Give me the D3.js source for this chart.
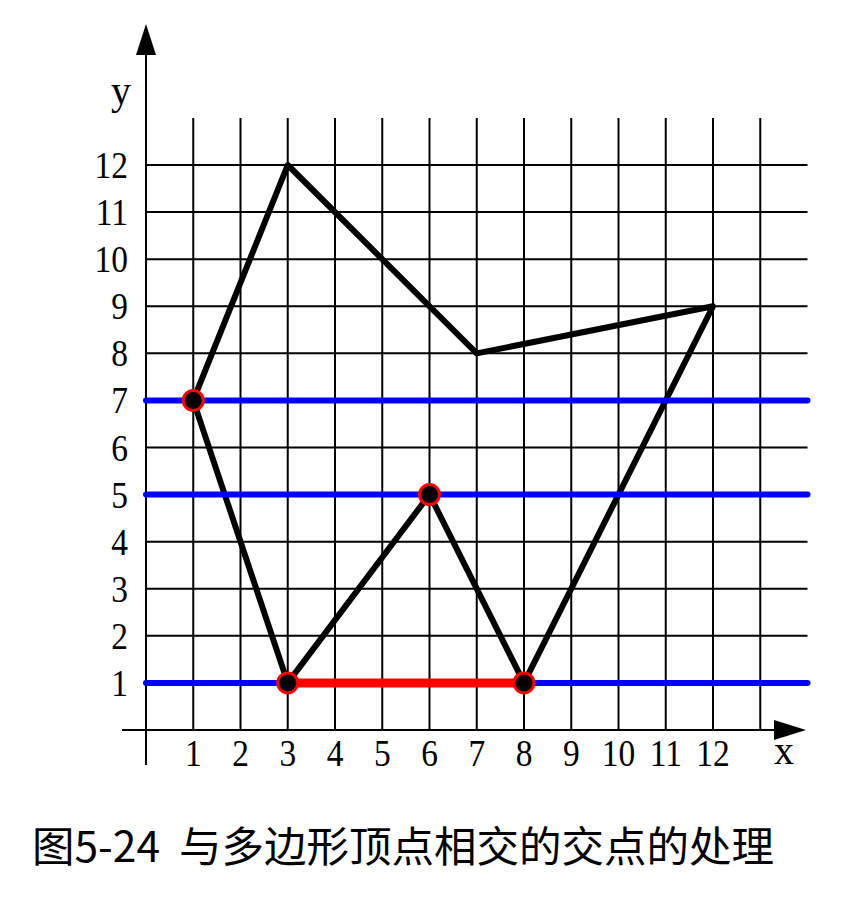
<!DOCTYPE html>
<html><head><meta charset="utf-8">
<script src="https://cdn.jsdelivr.net/npm/d3@7"></script>
<style>body{margin:0;background:#fff}</style>
</head><body>
<svg id="chart" width="851" height="901"></svg>
<script>
// polygon vertices
const polygon = [[1,7],[3,12],[7,8],[12,9],[8,1],[6,5],[3,1]];
// scan lines and the span filled on y=1
const scanLines = [7, 5, 1];
const redSpan = [[3,1],[8,1]];
// vertices hit by scan lines
const hitPoints = [[1,7],[6,5],[3,1],[8,1]];
const xTicks = d3.range(1, 13);
const yTicks = d3.range(1, 13);
const caption = "图5-24  与多边形顶点相交的交点的处理";

const svg = d3.select('#chart');
const x = d3.scaleLinear().domain([0, 12]).range([146, 713]);
const y = d3.scaleLinear().domain([0, 12]).range([730, 165]);
const serif = '"Liberation Serif", "DejaVu Serif", serif';

// grid
const grid = svg.append('g').attr('stroke', '#000').attr('stroke-width', 2);
grid.selectAll('.v').data(d3.range(1, 14)).join('line')
    .attr('x1', d => x(d)).attr('x2', d => x(d))
    .attr('y1', y(13)).attr('y2', y(0));
grid.selectAll('.h').data(yTicks).join('line')
    .attr('x1', x(0)).attr('x2', x(14))
    .attr('y1', d => y(d)).attr('y2', d => y(d));

// axes
svg.append('line').attr('x1', x(0)).attr('x2', x(0)).attr('y1', 765).attr('y2', 50)
    .attr('stroke', '#000').attr('stroke-width', 2);
svg.append('path').attr('d', `M${x(0)},24 L${x(0)-10},55 L${x(0)+10},55 Z`).attr('fill', '#000');
svg.append('line').attr('x1', 122).attr('x2', 780).attr('y1', y(0)).attr('y2', y(0))
    .attr('stroke', '#000').attr('stroke-width', 2);
svg.append('path').attr('d', `M806,${y(0)} L774,${y(0)-10} L774,${y(0)+10} Z`).attr('fill', '#000');

// tick labels (tall, slightly condensed serif)
svg.selectAll('.xt').data(xTicks).join('text')
    .attr('transform', d => `translate(${x(d)},766) scale(0.88,1)`)
    .attr('text-anchor', 'middle')
    .attr('font-family', serif).attr('font-size', 38).text(d => d);
svg.selectAll('.yt').data(yTicks).join('text')
    .attr('transform', d => `translate(128,${y(d) + 13}) scale(0.88,1)`)
    .attr('text-anchor', 'end')
    .attr('font-family', serif).attr('font-size', 38).text(d => d);
svg.append('text').attr('x', 121).attr('y', 104).attr('text-anchor', 'middle')
    .attr('font-family', serif).attr('font-size', 40).text('y');
svg.append('text').attr('x', 784).attr('y', 764).attr('text-anchor', 'middle')
    .attr('font-family', serif).attr('font-size', 40).text('x');

// polygon
svg.append('path')
    .attr('d', d3.line().x(d => x(d[0])).y(d => y(d[1]))(polygon) + 'Z')
    .attr('fill', 'none').attr('stroke', '#000').attr('stroke-width', 6)
    .attr('stroke-linejoin', 'round');

// scan lines
svg.selectAll('.scan').data(scanLines).join('line')
    .attr('x1', x(0)).attr('x2', x(14))
    .attr('y1', d => y(d)).attr('y2', d => y(d))
    .attr('stroke', '#00f').attr('stroke-width', 6).attr('stroke-linecap', 'round');

svg.append('line')
    .attr('x1', x(redSpan[0][0])).attr('x2', x(redSpan[1][0]))
    .attr('y1', y(redSpan[0][1])).attr('y2', y(redSpan[1][1]))
    .attr('stroke', '#f00').attr('stroke-width', 9);

svg.selectAll('.hit').data(hitPoints).join('circle')
    .attr('cx', d => x(d[0])).attr('cy', d => y(d[1])).attr('r', 10)
    .attr('fill', '#000').attr('stroke', '#f00').attr('stroke-width', 3);

svg.append('text').attr('x', 32).attr('y', 862)
    .attr('font-family', '"Noto Sans CJK SC", sans-serif').attr('font-size', 42.5)
    .attr('xml:space', 'preserve').style('white-space', 'pre').text(caption);
</script>
</body></html>
